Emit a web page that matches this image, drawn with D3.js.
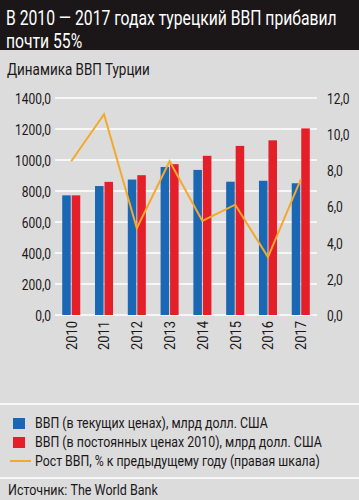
<!DOCTYPE html>
<html><head><meta charset="utf-8">
<script src="https://cdn.jsdelivr.net/npm/d3@7"></script>
<style>
body{margin:0;padding:0;background:#fff;}
svg{display:block;}
text{font-family:"Roboto","Liberation Sans",sans-serif;}
</style></head>
<body><svg id="c" width="359" height="500"></svg>
<script>
const years = ["2010","2011","2012","2013","2014","2015","2016","2017"];
const gdpCurrent = [772, 832, 874, 955, 936, 860, 866, 850];
const gdpConstant = [772, 859, 902, 973, 1027, 1091, 1127, 1204];
const growth = [8.5, 11.1, 4.8, 8.5, 5.2, 6.1, 3.2, 7.5];
const leftTicks = [0, 200, 400, 600, 800, 1000, 1200, 1400];
const rightTicks = [0, 2, 4, 6, 8, 10, 12];
const titleLines = ["В 2010 — 2017 годах турецкий ВВП прибавил", "почти 55%"];
const subtitle = "Динамика ВВП Турции";
const legendLabels = [
  "ВВП (в текущих ценах), млрд долл. США",
  "ВВП (в постоянных ценах 2010), млрд долл. США",
  "Рост ВВП, % к предыдущему году (правая шкала)"
];
const source = "Источник: The World Bank";
const colors = {blue:"#1a68b4", red:"#e41f2a", orange:"#f5a82a", bg:"#dcdcdd", ink:"#1b1718"};

const svg = d3.select("#c");

function putText(parent, str, x, y, size, fill, opts){
  opts = opts || {};
  const t = parent.append("text").attr("font-size",size).attr("fill",fill).text(str);
  if (opts.dy) t.attr("dy", opts.dy);
  if (opts.anchor) t.attr("text-anchor", opts.anchor);
  const w = t.node().getComputedTextLength();
  const f = opts.width ? opts.width / w : (opts.f || 1);
  t.attr("transform", `translate(${x},${y})${opts.rot ? " rotate("+opts.rot+")" : ""} scale(${f},1)`);
  return f;
}

svg.append("rect").attr("width",359).attr("height",500).attr("fill",colors.bg);
svg.append("rect").attr("width",359).attr("height",50).attr("fill",colors.ink);
const tf = putText(svg, titleLines[0], 6, 25, 19.5, "#fff", {width:331});
putText(svg, titleLines[1], 6, 47.5, 19.5, "#fff", {f:tf});
putText(svg, subtitle, 7, 75, 16, colors.ink, {width:143});

const x0 = d3.scaleBand().domain(years).range([55,317]).paddingInner(0.45).paddingOuter(0.22);
const x1 = d3.scaleBand().domain(["c","k"]).range([0,x0.bandwidth()]).paddingInner(0.1);
const yL = d3.scaleLinear().domain([0,1400]).range([315,98]);
const yR = d3.scaleLinear().domain([0,12]).range([315,98]);

svg.append("g").selectAll("line").data(leftTicks).join("line")
  .attr("x1",55).attr("x2",317).attr("y1",d=>yL(d)).attr("y2",d=>yL(d))
  .attr("stroke","#fff").attr("stroke-width",1.5);

const fmt = d => d3.format(".1f")(d).replace(".",",");
function condenseAxis(g, f, rot){
  g.selectAll(".tick text").each(function(){
    const t = d3.select(this);
    const x = +t.attr("x") || 0, y = +t.attr("y") || 0;
    t.attr("x",null).attr("y",null);
    t.attr("transform", `translate(${x},${y})${rot? " rotate("+rot+")":""} scale(${f},1)`);
  });
}
const axL = svg.append("g").attr("transform","translate(51,0)")
  .call(d3.axisLeft(yL).tickValues(leftTicks).tickFormat(fmt).tickSize(0).tickPadding(0));
axL.select(".domain").remove();
axL.selectAll("text").attr("font-size",15).attr("fill",colors.ink).attr("dy","0.36em");
condenseAxis(axL, 0.8);

const axR = svg.append("g").attr("transform","translate(327,0)")
  .call(d3.axisRight(yR).tickValues(rightTicks).tickFormat(fmt).tickSize(0).tickPadding(0));
axR.select(".domain").remove();
axR.selectAll("text").attr("font-size",15).attr("fill",colors.ink).attr("dy","0.36em");
condenseAxis(axR, 0.8);

const g = svg.append("g");
years.forEach((yr,i)=>{
  g.append("rect").attr("x",x0(yr)+x1("c")).attr("width",x1.bandwidth())
    .attr("y",yL(gdpCurrent[i])).attr("height",yL(0)-yL(gdpCurrent[i])).attr("fill",colors.blue);
  g.append("rect").attr("x",x0(yr)+x1("k")).attr("width",x1.bandwidth())
    .attr("y",yL(gdpConstant[i])).attr("height",yL(0)-yL(gdpConstant[i])).attr("fill",colors.red);
});

const line = d3.line().x((d,i)=>x0(years[i])+x0.bandwidth()/2).y(d=>yR(d));
svg.append("path").datum(growth).attr("d",line).attr("fill","none")
  .attr("stroke",colors.orange).attr("stroke-width",2).attr("stroke-linejoin","miter");

const axB = svg.append("g").attr("transform","translate(0,321)")
  .call(d3.axisBottom(x0).tickSize(0).tickPadding(0));
axB.select(".domain").remove();
axB.selectAll("text").attr("font-size",15).attr("fill",colors.ink)
  .attr("text-anchor","end").attr("x",0).attr("y",0).attr("dy","0.36em");
condenseAxis(axB, 0.86, -90);

[404,478].forEach(y=>svg.append("line").attr("x1",0).attr("x2",359).attr("y1",y).attr("y2",y)
  .attr("stroke","#fff").attr("stroke-width",1.5));

const lg = svg.append("g");
const ly = [423, 442, 461];
const lw = [233, 287, 285];
lg.append("rect").attr("x",13).attr("y",ly[0]-5).attr("width",12).attr("height",11).attr("fill",colors.blue);
lg.append("rect").attr("x",13).attr("y",ly[1]-5).attr("width",12).attr("height",11).attr("fill",colors.red);
lg.append("line").attr("x1",10).attr("x2",31).attr("y1",ly[2]).attr("y2",ly[2]).attr("stroke",colors.orange).attr("stroke-width",2);
legendLabels.forEach((t,i)=>putText(lg, t, 35, ly[i], 14.5, colors.ink, {width:lw[i], dy:"0.36em"}));

putText(svg, source, 8, 495, 14.5, colors.ink, {width:150});
</script></body></html>
